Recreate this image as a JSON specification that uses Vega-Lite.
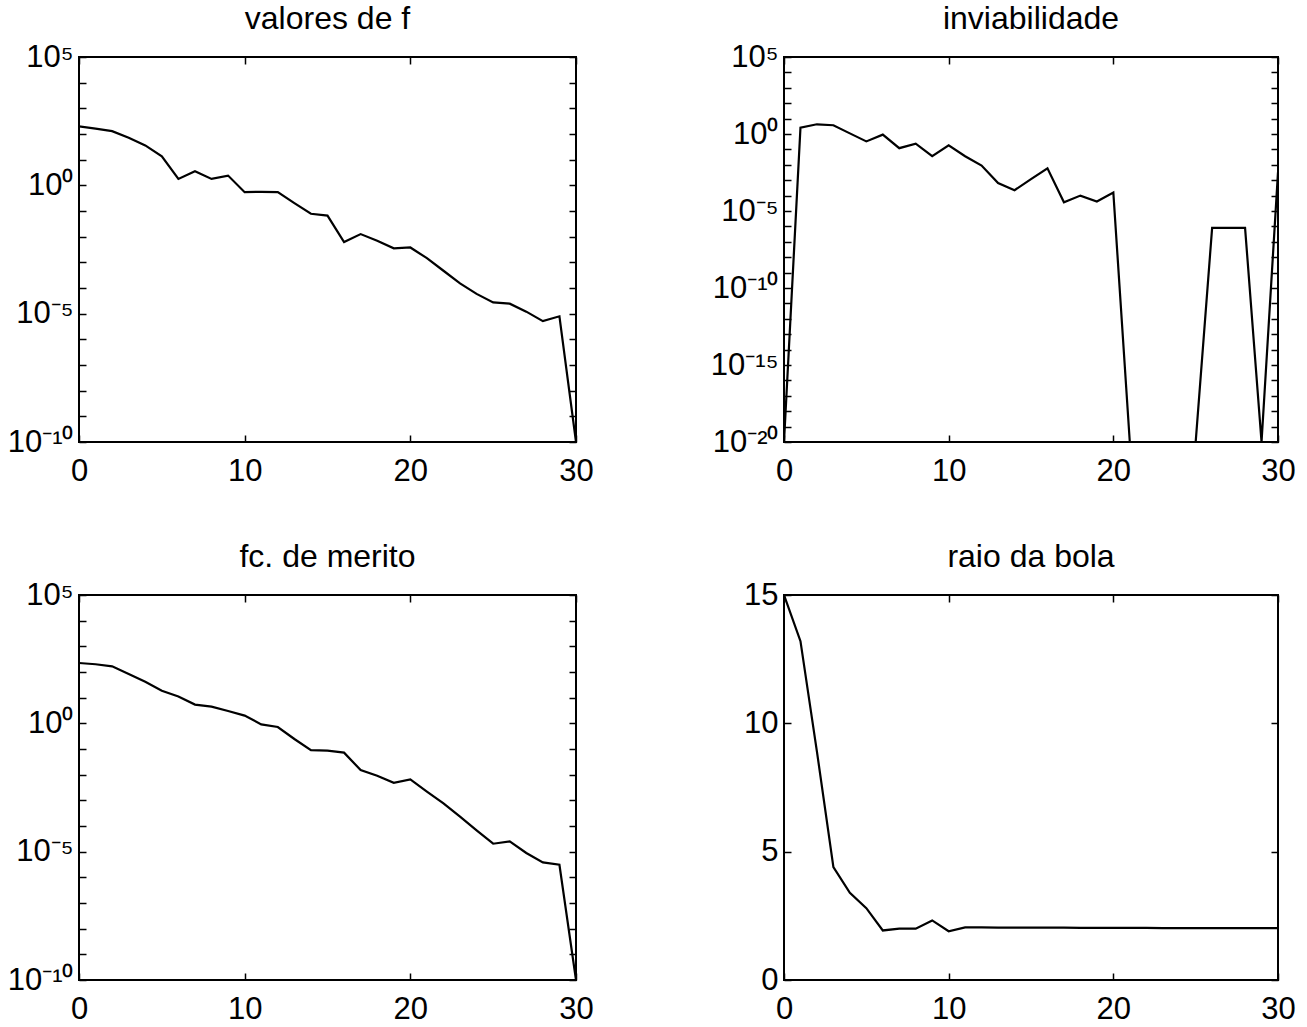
{
  "$schema": "https://vega.github.io/schema/vega-lite/v6.json",
  "background": "white",
  "padding": {"left": 6, "top": 2, "right": 5, "bottom": 5},
  "columns": 2,
  "spacing": {"column": 208, "row": 153},
  "bounds": "flush",
  "datasets": {
    "f": [
      {"it": 0, "v": 200}, {"it": 1, "v": 162}, {"it": 2, "v": 129}, {"it": 3, "v": 71}, {"it": 4, "v": 36},
      {"it": 5, "v": 13.5}, {"it": 6, "v": 1.78}, {"it": 7, "v": 3.55}, {"it": 8, "v": 1.78}, {"it": 9, "v": 2.4},
      {"it": 10, "v": 0.54}, {"it": 11, "v": 0.56}, {"it": 12, "v": 0.54}, {"it": 13, "v": 0.204}, {"it": 14, "v": 0.078},
      {"it": 15, "v": 0.066}, {"it": 16, "v": 0.0062}, {"it": 17, "v": 0.0126}, {"it": 18, "v": 0.0069}, {"it": 19, "v": 0.0035},
      {"it": 20, "v": 0.0038}, {"it": 21, "v": 0.00145}, {"it": 22, "v": 0.00047}, {"it": 23, "v": 0.000151}, {"it": 24, "v": 0.0000589},
      {"it": 25, "v": 0.0000275}, {"it": 26, "v": 0.0000245}, {"it": 27, "v": 0.000012}, {"it": 28, "v": 0.0000051}, {"it": 29, "v": 0.0000079},
      {"it": 30, "v": 1e-10}
    ],
    "inv": [
      {"it": 0, "v": 1e-20}, {"it": 1, "v": 2.57}, {"it": 2, "v": 4.27}, {"it": 3, "v": 3.72}, {"it": 4, "v": 1.1},
      {"it": 5, "v": 0.331}, {"it": 6, "v": 0.91}, {"it": 7, "v": 0.12}, {"it": 8, "v": 0.234}, {"it": 9, "v": 0.036},
      {"it": 10, "v": 0.182}, {"it": 11, "v": 0.036}, {"it": 12, "v": 0.0089}, {"it": 13, "v": 0.00065}, {"it": 14, "v": 0.000224},
      {"it": 15, "v": 0.00117}, {"it": 16, "v": 0.0059}, {"it": 17, "v": 0.000037}, {"it": 18, "v": 0.0001}, {"it": 19, "v": 0.000041},
      {"it": 20, "v": 0.000158}, {"it": 21, "v": 1e-20}, {"it": 22, "v": 1e-20}, {"it": 23, "v": 1e-20}, {"it": 24, "v": 1e-20},
      {"it": 25, "v": 1e-20}, {"it": 26, "v": 8.1e-7}, {"it": 27, "v": 8.1e-7}, {"it": 28, "v": 8.1e-7}, {"it": 29, "v": 1e-20},
      {"it": 30, "v": 0.0032}
    ],
    "mer": [
      {"it": 0, "v": 224}, {"it": 1, "v": 200}, {"it": 2, "v": 166}, {"it": 3, "v": 83}, {"it": 4, "v": 41.7},
      {"it": 5, "v": 18.6}, {"it": 6, "v": 11.2}, {"it": 7, "v": 5.37}, {"it": 8, "v": 4.47}, {"it": 9, "v": 3.02},
      {"it": 10, "v": 2.0}, {"it": 11, "v": 0.91}, {"it": 12, "v": 0.72}, {"it": 13, "v": 0.245}, {"it": 14, "v": 0.091},
      {"it": 15, "v": 0.087}, {"it": 16, "v": 0.072}, {"it": 17, "v": 0.0151}, {"it": 18, "v": 0.0091}, {"it": 19, "v": 0.0048},
      {"it": 20, "v": 0.0065}, {"it": 21, "v": 0.0022}, {"it": 22, "v": 0.00076}, {"it": 23, "v": 0.00023}, {"it": 24, "v": 0.000068},
      {"it": 25, "v": 0.0000204}, {"it": 26, "v": 0.0000251}, {"it": 27, "v": 0.0000089}, {"it": 28, "v": 0.0000038}, {"it": 29, "v": 0.0000031},
      {"it": 30, "v": 1e-10}
    ],
    "raio": [
      {"it": 0, "v": 15}, {"it": 1, "v": 13.2}, {"it": 2, "v": 8.9}, {"it": 3, "v": 4.4}, {"it": 4, "v": 3.4},
      {"it": 5, "v": 2.8}, {"it": 6, "v": 1.93}, {"it": 7, "v": 2.0}, {"it": 8, "v": 2.0}, {"it": 9, "v": 2.32},
      {"it": 10, "v": 1.9}, {"it": 11, "v": 2.05}, {"it": 12, "v": 2.05}, {"it": 13, "v": 2.04}, {"it": 14, "v": 2.04},
      {"it": 15, "v": 2.04}, {"it": 16, "v": 2.04}, {"it": 17, "v": 2.04}, {"it": 18, "v": 2.03}, {"it": 19, "v": 2.03},
      {"it": 20, "v": 2.03}, {"it": 21, "v": 2.03}, {"it": 22, "v": 2.03}, {"it": 23, "v": 2.02}, {"it": 24, "v": 2.02},
      {"it": 25, "v": 2.02}, {"it": 26, "v": 2.02}, {"it": 27, "v": 2.02}, {"it": 28, "v": 2.02}, {"it": 29, "v": 2.02},
      {"it": 30, "v": 2.02}
    ]
  },
  "concat": [
    {
      "title": "valores de f",
      "width": 497, "height": 385,
      "data": {"name": "f"},
      "layer": [
        {
          "mark": {"type": "line", "color": "black", "strokeWidth": 2.2, "clip": true},
          "encoding": {
            "x": {"field": "it", "type": "quantitative", "scale": {"domain": [0, 30], "nice": false}, "axis": {"values": [0, 10, 20, 30]}},
            "y": {"field": "v", "type": "quantitative", "scale": {"type": "log", "domain": [1e-10, 100000], "nice": false},
                  "axis": {"values": [1e-10, 1e-9, 1e-8, 1e-7, 1e-6, 1e-5, 1e-4, 1e-3, 1e-2, 1e-1, 1, 10, 100, 1000, 10000, 100000],
                           "labelExpr": "round(log(datum.value)/LN10) == 5 ? '10⁵' : round(log(datum.value)/LN10) == 0 ? '10⁰' : round(log(datum.value)/LN10) == -5 ? '10⁻⁵' : round(log(datum.value)/LN10) == -10 ? '10⁻¹⁰' : ''"}}
          }
        },
        {
          "mark": {"type": "line", "opacity": 0},
          "encoding": {
            "x": {"field": "it", "type": "quantitative", "axis": {"orient": "top", "labels": false, "values": [0, 10, 20, 30]}},
            "y": {"field": "v", "type": "quantitative", "axis": {"orient": "right", "labels": false, "values": [1e-10, 1e-9, 1e-8, 1e-7, 1e-6, 1e-5, 1e-4, 1e-3, 1e-2, 1e-1, 1, 10, 100, 1000, 10000, 100000]}}
          }
        }
      ],
      "resolve": {"axis": {"x": "independent", "y": "independent"}}
    },
    {
      "title": "inviabilidade",
      "width": 494, "height": 385,
      "data": {"name": "inv"},
      "layer": [
        {
          "mark": {"type": "line", "color": "black", "strokeWidth": 2.2, "clip": true},
          "encoding": {
            "x": {"field": "it", "type": "quantitative", "scale": {"domain": [0, 30], "nice": false}, "axis": {"values": [0, 10, 20, 30]}},
            "y": {"field": "v", "type": "quantitative", "scale": {"type": "log", "domain": [1e-20, 100000], "nice": false},
                  "axis": {"values": [1e-20, 1e-19, 1e-18, 1e-17, 1e-16, 1e-15, 1e-14, 1e-13, 1e-12, 1e-11, 1e-10, 1e-9, 1e-8, 1e-7, 1e-6, 1e-5, 1e-4, 1e-3, 1e-2, 1e-1, 1, 10, 100, 1000, 10000, 100000],
                           "labelExpr": "round(log(datum.value)/LN10) == 5 ? '10⁵' : round(log(datum.value)/LN10) == 0 ? '10⁰' : round(log(datum.value)/LN10) == -5 ? '10⁻⁵' : round(log(datum.value)/LN10) == -10 ? '10⁻¹⁰' : round(log(datum.value)/LN10) == -15 ? '10⁻¹⁵' : round(log(datum.value)/LN10) == -20 ? '10⁻²⁰' : ''"}}
          }
        },
        {
          "mark": {"type": "line", "opacity": 0},
          "encoding": {
            "x": {"field": "it", "type": "quantitative", "axis": {"orient": "top", "labels": false, "values": [0, 10, 20, 30]}},
            "y": {"field": "v", "type": "quantitative", "axis": {"orient": "right", "labels": false, "values": [1e-20, 1e-19, 1e-18, 1e-17, 1e-16, 1e-15, 1e-14, 1e-13, 1e-12, 1e-11, 1e-10, 1e-9, 1e-8, 1e-7, 1e-6, 1e-5, 1e-4, 1e-3, 1e-2, 1e-1, 1, 10, 100, 1000, 10000, 100000]}}
          }
        }
      ],
      "resolve": {"axis": {"x": "independent", "y": "independent"}}
    },
    {
      "title": "fc. de merito",
      "width": 497, "height": 385,
      "data": {"name": "mer"},
      "layer": [
        {
          "mark": {"type": "line", "color": "black", "strokeWidth": 2.2, "clip": true},
          "encoding": {
            "x": {"field": "it", "type": "quantitative", "scale": {"domain": [0, 30], "nice": false}, "axis": {"values": [0, 10, 20, 30]}},
            "y": {"field": "v", "type": "quantitative", "scale": {"type": "log", "domain": [1e-10, 100000], "nice": false},
                  "axis": {"values": [1e-10, 1e-9, 1e-8, 1e-7, 1e-6, 1e-5, 1e-4, 1e-3, 1e-2, 1e-1, 1, 10, 100, 1000, 10000, 100000],
                           "labelExpr": "round(log(datum.value)/LN10) == 5 ? '10⁵' : round(log(datum.value)/LN10) == 0 ? '10⁰' : round(log(datum.value)/LN10) == -5 ? '10⁻⁵' : round(log(datum.value)/LN10) == -10 ? '10⁻¹⁰' : ''"}}
          }
        },
        {
          "mark": {"type": "line", "opacity": 0},
          "encoding": {
            "x": {"field": "it", "type": "quantitative", "axis": {"orient": "top", "labels": false, "values": [0, 10, 20, 30]}},
            "y": {"field": "v", "type": "quantitative", "axis": {"orient": "right", "labels": false, "values": [1e-10, 1e-9, 1e-8, 1e-7, 1e-6, 1e-5, 1e-4, 1e-3, 1e-2, 1e-1, 1, 10, 100, 1000, 10000, 100000]}}
          }
        }
      ],
      "resolve": {"axis": {"x": "independent", "y": "independent"}}
    },
    {
      "title": "raio da bola",
      "width": 494, "height": 385,
      "data": {"name": "raio"},
      "layer": [
        {
          "mark": {"type": "line", "color": "black", "strokeWidth": 2.2, "clip": true},
          "encoding": {
            "x": {"field": "it", "type": "quantitative", "scale": {"domain": [0, 30], "nice": false}, "axis": {"values": [0, 10, 20, 30]}},
            "y": {"field": "v", "type": "quantitative", "scale": {"domain": [0, 15], "nice": false}, "axis": {"values": [0, 5, 10, 15]}}
          }
        },
        {
          "mark": {"type": "line", "opacity": 0},
          "encoding": {
            "x": {"field": "it", "type": "quantitative", "axis": {"orient": "top", "labels": false, "values": [0, 10, 20, 30]}},
            "y": {"field": "v", "type": "quantitative", "axis": {"orient": "right", "labels": false, "values": [0, 5, 10, 15]}}
          }
        }
      ],
      "resolve": {"axis": {"x": "independent", "y": "independent"}}
    }
  ],
  "config": {
    "view": {"stroke": "black", "strokeWidth": 2},
    "title": {"font": "Liberation Sans", "fontSize": 32, "fontWeight": "normal", "color": "black", "offset": 5},
    "axis": {
      "title": null,
      "domain": false,
      "grid": false,
      "ticks": true,
      "tickColor": "black",
      "tickWidth": 1.5,
      "tickSize": -7,
      "labelFont": "Liberation Sans",
      "labelFontSize": 31,
      "labelColor": "black",
      "labelFlush": false,
      "labelOverlap": false
    },
    "axisX": {"labelPadding": 21},
    "axisY": {"labelPadding": 13}
  }
}
